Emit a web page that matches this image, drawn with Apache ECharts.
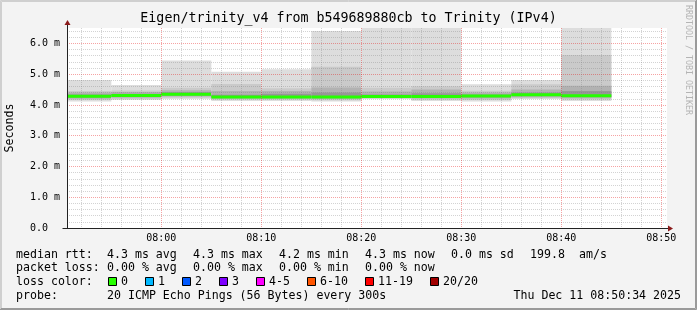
<!DOCTYPE html>
<html><head><meta charset="utf-8">
<script src="https://cdn.jsdelivr.net/npm/echarts@6/dist/echarts.min.js"></script>
<style>html,body{margin:0;padding:0;background:#f3f3f3}#c{width:697px;height:310px}</style>
</head><body><div id="c"></div>
<script>
// ---- data ----
const chartTitle = 'Eigen/trinity_v4 from b549689880cb to Trinity (IPv4)';
const chartStart = '07:50:34';
const chartEnd = '08:50:34';
const stepMinutes = 5;
const segEnds = ['07:55','08:00','08:05','08:10','08:15','08:20','08:25','08:30','08:35','08:40','08:45'];
const rttMin = [4.11, 4.16, 4.19, 4.13, 4.13, 4.11, 4.19, 4.13, 4.11, 4.19, 4.13];
const rttP5  = [4.16, 4.19, 4.23, 4.17, 4.17, 4.15, 4.21, 4.17, 4.16, 4.22, 4.18];
const rttP10 = [4.20, 4.23, 4.27, 4.20, 4.20, 4.19, 4.23, 4.21, 4.21, 4.25, 4.22];
const rttP25 = [4.24, 4.27, 4.31, 4.23, 4.23, 4.23, 4.25, 4.24, 4.25, 4.29, 4.26];
const rttMed = [4.28, 4.31, 4.35, 4.26, 4.26, 4.26, 4.27, 4.27, 4.29, 4.33, 4.30];
const rttP75 = [4.34, 4.36, 4.41, 4.33, 4.36, 4.40, 4.34, 4.38, 4.34, 4.40, 4.45];
const rttP90 = [4.40, 4.42, 4.48, 4.45, 4.45, 4.57, 4.44, 4.50, 4.40, 4.50, 4.62];
const rttP95 = [4.45, 4.47, 4.56, 4.68, 4.54, 5.24, 4.56, 4.61, 4.46, 4.67, 5.62];
const rttMax = [4.81, 4.65, 5.44, 5.08, 5.16, 6.40, 6.62, 6.60, 4.67, 4.81, 6.61];
const segLoss = [0, 0, 0, 0, 0, 0, 0, 0, 0, 0, 0];
const lossLabels = ['0','1','2','3','4-5','6-10','11-19','20/20'];
const lossColors = ['#26ff00','#00b8ff','#0059ff','#7e00ff','#ff00ff','#ff5500','#ff0000','#a10000'];
const statsRtt = ['4.3 ms avg','4.3 ms max','4.2 ms min','4.3 ms now','0.0 ms sd','199.8'];
const statsRttUnit = 'am/s';
const statsLoss = ['0.00 % avg','0.00 % max','0.00 % min','0.00 % now'];
const probeText = '20 ICMP Echo Pings (56 Bytes) every 300s';
const stampText = 'Thu Dec 11 08:50:34 2025';
const yMax = 6.5;

// ---- build ----
function toMin(s){const p=s.split(':').map(Number);return p[0]*60+p[1]+(p[2]||0)/60;}
function pad(n){return (n<10?'0':'')+n;}
const startMin = toMin(chartStart), endMin = toMin(chartEnd);
const segData = segEnds.map((e,i)=>{
  const end = toMin(e);
  const start = Math.max(end - stepMinutes, startMin);
  return [start, end, rttMin[i], rttP5[i], rttP10[i], rttP25[i], rttMed[i], rttP75[i], rttP90[i], rttP95[i], rttMax[i], segLoss[i]];
});
const bandDefs = [[2,10,'#dddddd'],[3,9,'#cacaca'],[4,8,'#b2b2b2'],[5,7,'#979797']];

const MONO = '"DejaVu Sans Mono", monospace';
const chart = echarts.init(document.getElementById('c'), null, {renderer:'canvas'});

const option = {
  backgroundColor: '#f3f3f3',
  animation: false,
  grid: {left:67, top:28, width:600, height:200, show:true, backgroundColor:'#ffffff', borderWidth:0, containLabel:false},
  xAxis: {
    type:'value', min:startMin, max:endMin, splitNumber:6, z:3,
    axisLine:{show:true, onZero:false, lineStyle:{color:'#222', width:1}},
    axisTick:{show:false},
    axisLabel:{show:true, margin:5, showMinLabel:false, showMaxLabel:false, color:'#000',
      fontFamily:'DejaVu Sans Mono', fontSize:10,
      formatter:v=>{const m=Math.round(v);return pad(Math.floor(m/60))+':'+pad(m%60);}},
    splitLine:{show:true, showMinLine:false, showMaxLine:false, lineStyle:{color:'rgba(230,0,0,0.36)', type:[1,1], width:1}},
    minorTick:{show:false, splitNumber:5},
    minorSplitLine:{show:true, lineStyle:{color:'rgba(128,128,128,0.35)', type:[1,1], width:1}}
  },
  yAxis: {
    type:'value', min:0, max:yMax, splitNumber:7, z:3,
    axisLine:{show:true, lineStyle:{color:'#222', width:1}},
    axisTick:{show:false},
    axisLabel:{show:true, margin:7, showMaxLabel:false, color:'#000',
      fontFamily:'DejaVu Sans Mono', fontSize:10,
      formatter:v=> v===0 ? '0.0  ' : v.toFixed(1)+' m'},
    splitLine:{show:true, showMaxLine:false, showMinLine:false, lineStyle:{color:'rgba(230,0,0,0.36)', type:[1,1], width:1}},
    minorTick:{show:false, splitNumber:5},
    minorSplitLine:{show:true, lineStyle:{color:'rgba(128,128,128,0.35)', type:[1,1], width:1}}
  },
  series: [{
    type:'custom', z:2,
    data: segData,
    encode:{x:[0,1], y:[2,10]},
    renderItem:(params, api)=>{
      const cs = params.coordSys;
      const area = {x:cs.x, y:cs.y, width:cs.width, height:cs.height};
      const x0 = api.value(0), x1 = api.value(1);
      const children = [];
      bandDefs.forEach(([lo,hi,c])=>{
        const a = api.coord([x0, api.value(hi)]);
        const b = api.coord([x1, api.value(lo)]);
        const r = echarts.graphic.clipRectByRect({x:a[0], y:a[1], width:b[0]-a[0], height:b[1]-a[1]}, area);
        if (r) children.push({type:'rect', shape:r, style:{fill:c}});
      });
      const m0 = api.coord([x0, api.value(6)]), m1 = api.coord([x1, api.value(6)]);
      children.push({type:'rect', shape:{x:m0[0], y:m0[1]-1.5, width:m1[0]-m0[0], height:3}, style:{fill:lossColors[api.value(11)]}});
      return {type:'group', children};
    }
  }]
};
chart.setOption(option);

// ---- decorations and legend text ----
const o = chart.convertToPixel({gridIndex:0}, [startMin, 0]);
const e = chart.convertToPixel({gridIndex:0}, [endMin, yMax]);
const ox = Math.round(o[0]) + 0.5, oy = Math.round(o[1]) + 0.5;
const ex = e[0], ty = e[1];
const g = [];
// border
g.push({type:'polyline', shape:{points:[[0.5,309],[0.5,0.5],[696,0.5]]}, style:{stroke:'#cfcfcf', lineWidth:1, fill:null}});
g.push({type:'polyline', shape:{points:[[1.5,308],[1.5,1.5],[695,1.5]]}, style:{stroke:'#cfcfcf', lineWidth:1, fill:null}});
g.push({type:'polyline', shape:{points:[[0,309.5],[696.5,309.5],[696.5,0]]}, style:{stroke:'#9a9a9a', lineWidth:1, fill:null}});
g.push({type:'polyline', shape:{points:[[1,308.5],[695.5,308.5],[695.5,1]]}, style:{stroke:'#9a9a9a', lineWidth:1, fill:null}});
// axis extensions + arrows
g.push({type:'line', z:10, shape:{x1:ox, y1:ty, x2:ox, y2:ty-4}, style:{stroke:'#222', lineWidth:1}});
g.push({type:'line', z:10, shape:{x1:ox-5, y1:oy, x2:ox, y2:oy}, style:{stroke:'#222', lineWidth:1}});
g.push({type:'line', z:10, shape:{x1:ex, y1:oy, x2:ex+3, y2:oy}, style:{stroke:'#222', lineWidth:1}});
g.push({type:'polygon', z:10, shape:{points:[[ox-3,ty-3],[ox+3,ty-3],[ox,ty-8]]}, style:{fill:'#8b1a1a'}});
g.push({type:'polygon', z:10, shape:{points:[[ex+1,oy-3],[ex+1,oy+3],[ex+6,oy]]}, style:{fill:'#8b1a1a'}});
// title
function txt(t, x, y, size, opts){
  opts = opts || {};
  return {type:'text', x, y, rotation:opts.rotation||0, z:10,
    style:{text:t, font:size+'px '+MONO, fill:opts.fill||'#000', align:opts.align||'left', verticalAlign:'middle'}};
}
g.push(txt(chartTitle, 348.5, 18.5, 13.3, {align:'center'}));
g.push(txt('Seconds', 10, 128, 11.6, {align:'center', rotation:Math.PI/2}));
g.push(txt('RRDTOOL / TOBI OETIKER', 688, 5, 8.3, {align:'left', rotation:-Math.PI/2, fill:'#b4b4b4'}));
const cw = 7, fs = 11.6, lx = 16, vx = 107;
const rows = [254.5, 268.3, 282, 295.8];
g.push(txt('median rtt:', lx, rows[0], fs));
let x = vx;
statsRtt.forEach((s,i)=>{ g.push(txt(s, x, rows[0], fs)); x += s.length*cw + (i===statsRtt.length-1 ? 14 : 16); });
g.push(txt(statsRttUnit, x, rows[0], fs));
g.push(txt('packet loss:', lx, rows[1], fs));
x = vx;
statsLoss.forEach(s=>{ g.push(txt(s, x, rows[1], fs)); x += s.length*cw + 16; });
g.push(txt('loss color:', lx, rows[2], fs));
x = 108;
lossLabels.forEach((l,i)=>{
  g.push({type:'rect', z:10, shape:{x:x+0.5, y:rows[2]-4.5, width:8, height:8}, style:{fill:lossColors[i], stroke:'#000', lineWidth:1}});
  g.push(txt(l, x+13, rows[2], fs));
  x += 13 + l.length*cw + 17;
});
g.push(txt('probe:', lx, rows[3], fs));
g.push(txt(probeText, vx, rows[3], fs));
g.push(txt(stampText, 681, rows[3], fs, {align:'right'}));
chart.setOption({graphic:{elements:g}});
</script>
</body></html>
